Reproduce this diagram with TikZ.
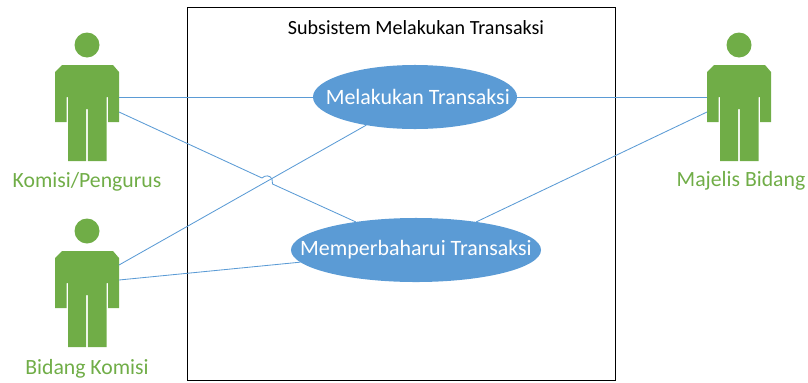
\documentclass[tikz,border=0pt]{standalone}
\usepackage{fontspec}
\setmainfont{Carlito}
\usetikzlibrary{shapes.geometric}
\definecolor{actorgreen}{HTML}{70AD47}
\definecolor{caseblue}{HTML}{5B9BD5}
\tikzset{
	usecase/.style={ellipse, fill=caseblue, inner sep=0pt, outer sep=0pt},
	casetext/.style={text=white, inner sep=0pt, font=\fontsize{15.6}{18}\selectfont},
	actorname/.style={text=actorgreen, inner sep=0pt, font=\fontsize{15.45}{18}\selectfont},
	link/.style={caseblue, line width=0.6pt},
	actor/.pic={
		\fill[actorgreen] (0, 0) circle (12.5);
		\fill[actorgreen] (-32, 27) -- (-25, 20) -- (26, 20) -- (32, 27) -- (32, 77) -- (21, 77) -- (21, 52)
			-- (19.5, 52) -- (19.5, 116) -- (0.8, 116) -- (0.8, 64) -- (-0.8, 64) -- (-0.8, 116) -- (-19, 116)
			-- (-19, 52) -- (-20.5, 52) -- (-20.5, 77) -- (-32, 77) -- cycle;
		\coordinate (-ra) at (32, 52);
		\coordinate (-rb) at (32, 67);
		\coordinate (-rc) at (32, 34);
		\coordinate (-rd) at (32, 49);
		\coordinate (-la) at (-32, 52);
		\coordinate (-lb) at (-32, 67);
	}
}

\begin{document}
\begin{tikzpicture}[x=0.025cm, y=-0.025cm]
		\useasboundingbox (0, 0) rectangle (808, 382);

		\node[draw, line width=0.7pt, minimum width=10.7cm, minimum height=9.3cm, inner sep=0pt] (system) at (401.5, 194) {};
		\node[inner sep=0pt, font=\fontsize{14.3}{16}\selectfont] (title) at (416, 28) {Subsistem Melakukan Transaksi};

		\node[usecase, minimum width=5.1cm, minimum height=1.6cm, label={[casetext, xshift=0.07cm]center:Melakukan Transaksi}] (trans) at (415, 97) {};
		\node[usecase, minimum width=6.25cm, minimum height=1.6cm, label={[casetext]center:Memperbaharui Transaksi}] (update) at (416, 250) {};

		\pic (komisi) at (87, 45) {actor};
		\pic (bidang) at (87, 231) {actor};
		\pic (majelis) at (739, 45) {actor};

		\node[actorname] (komisilabel) at (87, 182) {Komisi/Pengurus};
		\node[actorname] (bidanglabel) at (87, 369) {Bidang Komisi};
		\node[actorname] (majelislabel) at (741, 181) {Majelis Bidang};

		% hop over the other line
		\coordinate (hopa) at (262, 178);
		\coordinate (hopb) at (272, 179);
		\coordinate (hopc) at (272.5, 184);

		\draw[link] (komisi-ra) -- (trans.west);
		\draw[link] (komisi-rb) -- (hopa) .. controls (265, 175) and (270, 175) .. (hopb) -- (hopc) -- (update.155.4);
		\draw[link] (bidang-rc) -- (trans.210.8);
		\draw[link] (bidang-rd) -- (update.186.6);
		\draw[link] (trans.east) -- (majelis-la);
		\draw[link] (update.25.4) -- (majelis-lb);
	\end{tikzpicture}
\end{document}
